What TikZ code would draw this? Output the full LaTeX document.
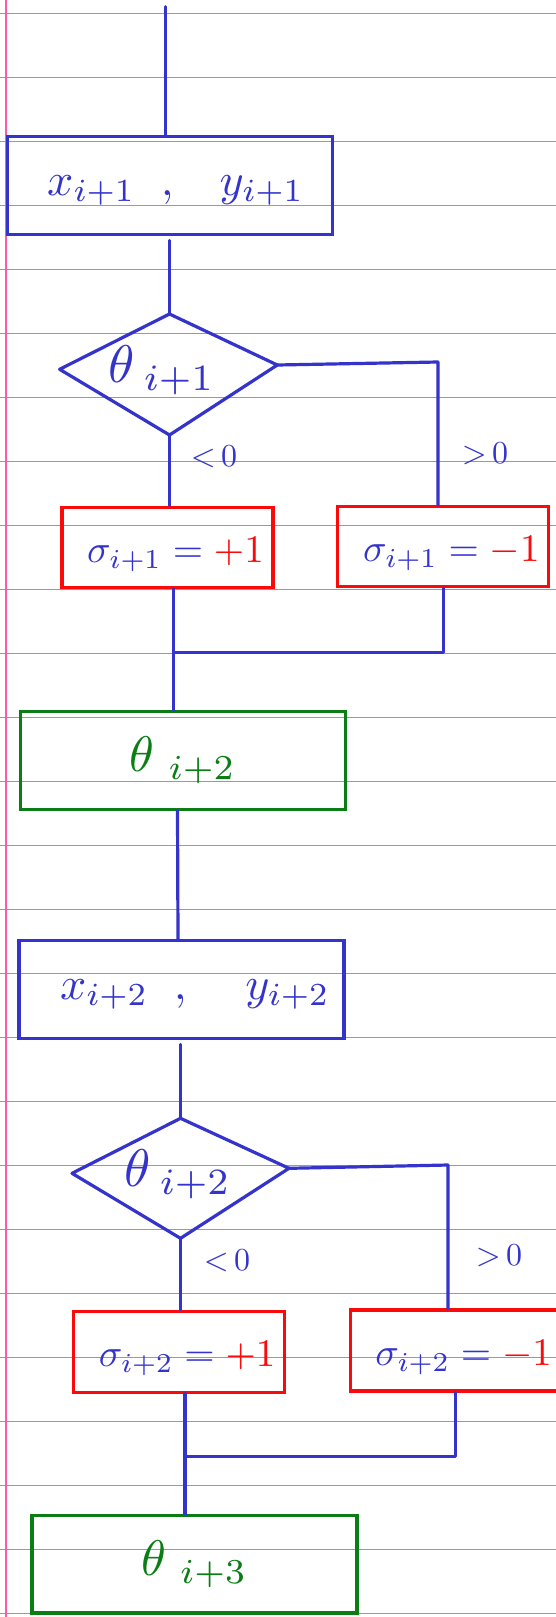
\documentclass[tikz,border=0pt]{standalone}
\usepackage{graphicx}
\definecolor{inkblue}{RGB}{52,52,204}
\definecolor{inkred}{RGB}{250,10,10}
\definecolor{inkgreen}{RGB}{10,125,20}
\definecolor{ruleblue}{RGB}{100,165,240}
\definecolor{marginpink}{RGB}{255,90,170}
\newcommand{\mysz}[2]{\scalebox{#1}{#2}}
\newcommand{\mylow}[2]{\raisebox{-#1}[\height][\depth]{#2}}
\tikzset{
  conn/.style={draw=inkblue, line width=3.2pt, line cap=round, line join=round},
  bluebox/.style={draw=inkblue, line width=3.2pt, inner sep=0pt, text=inkblue,
    minimum width=325pt, minimum height=97.5pt},
  redbox/.style={draw=inkred, line width=3.2pt, inner sep=0pt, text=inkblue,
    minimum width=211pt, minimum height=80pt},
  greenbox/.style={draw=inkgreen, line width=3.2pt, inner sep=0pt, text=inkgreen,
    minimum width=325pt, minimum height=97.5pt},
  dshape/.style={draw=inkblue, line width=3.2pt, line join=round},
  dtext/.style={text=inkblue, inner sep=0pt},
  lbl/.style={text=inkblue, inner sep=0pt},
}
\begin{document}
\begin{tikzpicture}[x=1pt,y=-1pt]
\clip (0,0) rectangle (556,1617);
\fill[white] (0,0) rectangle (556,1617);
% ruled paper
\foreach \k in {0,...,25} {
  \draw[ruleblue, line width=1.2pt] (0,13.3+64*\k) -- (556,13.3+64*\k);
}
\draw[marginpink, line width=1.5pt] (6,0) -- (6,1617);

% ---------- first stage ----------
\coordinate (top) at (165.6,6.7);
\node[bluebox] (b1) at (169.7,185.5) {\hspace*{12pt}\mylow{5pt}{\mysz{4.6}{$x_{i+1}\;\;,\;\;\; y_{i+1}$}}};

\coordinate (d1t) at (169.5,314);
\coordinate (d1l) at (59.6,369.3);
\coordinate (d1r) at (277.3,365);
\coordinate (d1b) at (169.5,435);
\draw[dshape] (d1t) -- (d1r) -- (d1b) -- (d1l) -- cycle;
\node[dtext] (th1) at (162,370) {\mysz{5.3}{$\theta\,{}_{i+1}$}};

\node[redbox] (r1) at (167.5,547.2) {\hspace*{16pt}\mylow{7pt}{\mysz{3.9}{$\sigma_{i+1}=\textcolor{inkred}{+1}$}}};
\node[redbox] (r2) at (443.3,546.7) {\hspace*{16pt}\mylow{7pt}{\mysz{3.9}{$\sigma_{i+1}=\textcolor{inkred}{-1}$}}};

\node[lbl] (lt1) at (214,457) {\mysz{3.2}{${<}\,0$}};
\node[lbl] (gt1) at (485,454) {\mysz{3.2}{${>}\,0$}};

\node[greenbox] (g1) at (183,760.4) {\mysz{5}{$\theta\;{}_{i+2}$}};

\coordinate (c1) at (437.9,362);
\coordinate (m1) at (173.8,652.3);

\draw[conn] (top) -- (top |- b1.north);
\draw[conn] ([yshift=-4.5pt]d1t |- b1.south) -- (d1t);
\draw[conn] (d1b) -- (d1b |- r1.north);
\draw[conn] (d1r) -- (c1) -- (c1 |- r2.north);
\draw[conn] (m1 |- r1.south) -- (m1 |- g1.north);
\draw[conn] (r2.south) -- (r2.south |- m1) -- (m1);

% ---------- second stage ----------
\node[bluebox] (b2) at (181.4,989.5) {\hspace*{27pt}\mylow{5pt}{\mysz{4.6}{$x_{i+2}\;\;,\;\;\;\; y_{i+2}$}}};

\coordinate (d2t) at (180.5,1118.3);
\coordinate (d2l) at (72,1173.3);
\coordinate (d2r) at (289,1168.3);
\coordinate (d2b) at (180.5,1238.3);
\draw[dshape] (d2t) -- (d2r) -- (d2b) -- (d2l) -- cycle;
\node[dtext] (th2) at (178,1174) {\mysz{5.3}{$\theta\,{}_{i+2}$}};

\node[redbox, minimum height=81pt] (r3) at (179.1,1351.7) {\hspace*{16pt}\mylow{7pt}{\mysz{3.9}{$\sigma_{i+2}=\textcolor{inkred}{+1}$}}};
\node[redbox, minimum height=81pt] (r4) at (455.7,1350.5) {\hspace*{16pt}\mylow{7pt}{\mysz{3.9}{$\sigma_{i+2}=\textcolor{inkred}{-1}$}}};

\node[lbl] (lt2) at (227,1261) {\mysz{3.2}{${<}\,0$}};
\node[lbl] (gt2) at (499,1256) {\mysz{3.2}{${>}\,0$}};

\node[greenbox] (g2) at (194.5,1564.2) {\mysz{5}{$\theta\;{}_{i+3}$}};

\coordinate (c2) at (447.9,1165);
\coordinate (m2) at (185,1456.7);

\draw[conn] ([xshift=-5.5pt]g1.south) -- ([xshift=-3.4pt]b2.north);
\draw[conn] ([yshift=-4.5pt]d2t |- b2.south) -- (d2t);
\draw[conn] (d2b) -- (d2b |- r3.north);
\draw[conn] (d2r) -- (c2) -- (c2 |- r4.north);
\draw[conn] (m2 |- r3.south) -- (m2 |- g2.north);
\draw[conn] (r4.south) -- (r4.south |- m2) -- (m2);
\end{tikzpicture}
\end{document}
